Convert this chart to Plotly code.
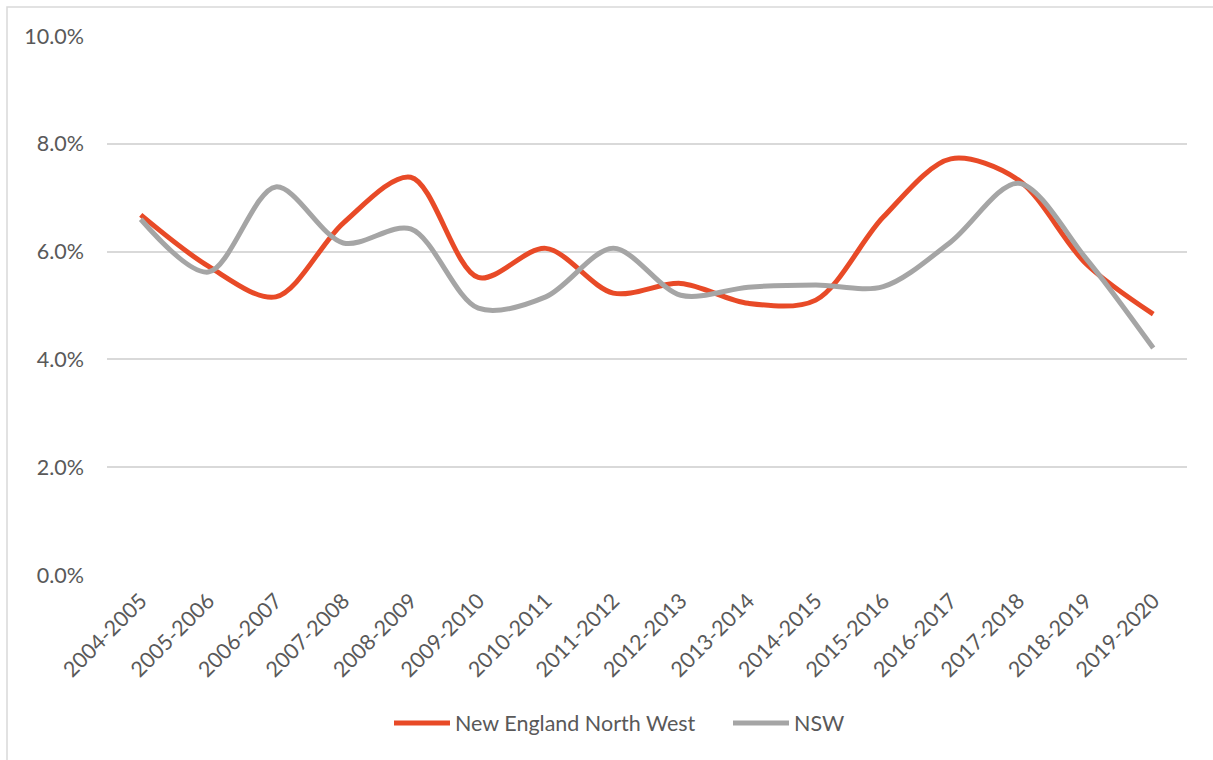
import plotly.graph_objects as go

years = ["2004-2005", "2005-2006", "2006-2007", "2007-2008", "2008-2009", "2009-2010",
         "2010-2011", "2011-2012", "2012-2013", "2013-2014", "2014-2015", "2015-2016",
         "2016-2017", "2017-2018", "2018-2019", "2019-2020"]
nenw = [0.0668, 0.0573, 0.0516, 0.0653, 0.0738, 0.0552, 0.0606, 0.0523, 0.0541, 0.0504,
        0.0510, 0.0664, 0.0772, 0.0733, 0.0578, 0.0484]
nsw = [0.0660, 0.0562, 0.0720, 0.0616, 0.0642, 0.0495, 0.0516, 0.0606, 0.0519, 0.0534,
       0.0538, 0.0535, 0.0618, 0.0727, 0.0588, 0.0421]
y_ticks = [0, 0.02, 0.04, 0.06, 0.08, 0.10]

W, H = 1213, 760
ML, MR, MT, MB = 107, 26, 36, 185
PW, PH = W - ML - MR, H - MT - MB

font_family = "Lato, 'Open Sans', sans-serif"
text_color = "#595959"
FS = 21.5

fig = go.Figure()
fig.add_trace(go.Scatter(x=years, y=nenw, name="New England North West", mode="lines",
                         line=dict(color="#E84A27", width=5, shape="spline", smoothing=0.9)))
fig.add_trace(go.Scatter(x=years, y=nsw, name="NSW", mode="lines",
                         line=dict(color="#A5A5A5", width=5, shape="spline", smoothing=0.9)))

# outer chart border
fig.add_shape(type="rect", xref="paper", yref="paper",
              x0=(7 - ML) / PW, x1=(W + 10 - ML) / PW,
              y0=-(H + 10 - MT - PH) / PH, y1=1 + (MT - 7) / PH,
              line=dict(color="#D9D9D9", width=1.5), fillcolor="rgba(0,0,0,0)", layer="below")

fig.update_layout(
    width=W, height=H,
    margin=dict(l=ML, r=MR, t=MT, b=MB, autoexpand=False),
    paper_bgcolor="white", plot_bgcolor="white",
    font=dict(family=font_family, color=text_color, size=FS),
    showlegend=True,
    legend=dict(orientation="h", x=(389 - ML) / PW, xanchor="left",
                y=-(723 - MT - PH) / PH, yanchor="middle",
                font=dict(size=FS, color=text_color), itemwidth=56,
                entrywidth=268, entrywidthmode="pixels"),
    xaxis=dict(type="category", range=[-0.5, len(years) - 0.5], showgrid=False, zeroline=False,
               showline=False, tickangle=-45, ticks="", ticklabelstandoff=8,
               tickfont=dict(size=FS, color=text_color)),
    yaxis=dict(range=[0, 0.10], tickvals=y_ticks, tickformat=".1%", showgrid=True,
               gridcolor="#D9D9D9", gridwidth=1.5, zeroline=False, showline=False, ticks="",
               ticklabelstandoff=22, tickfont=dict(size=FS, color=text_color)),
)

fig.write_html("out.html")
